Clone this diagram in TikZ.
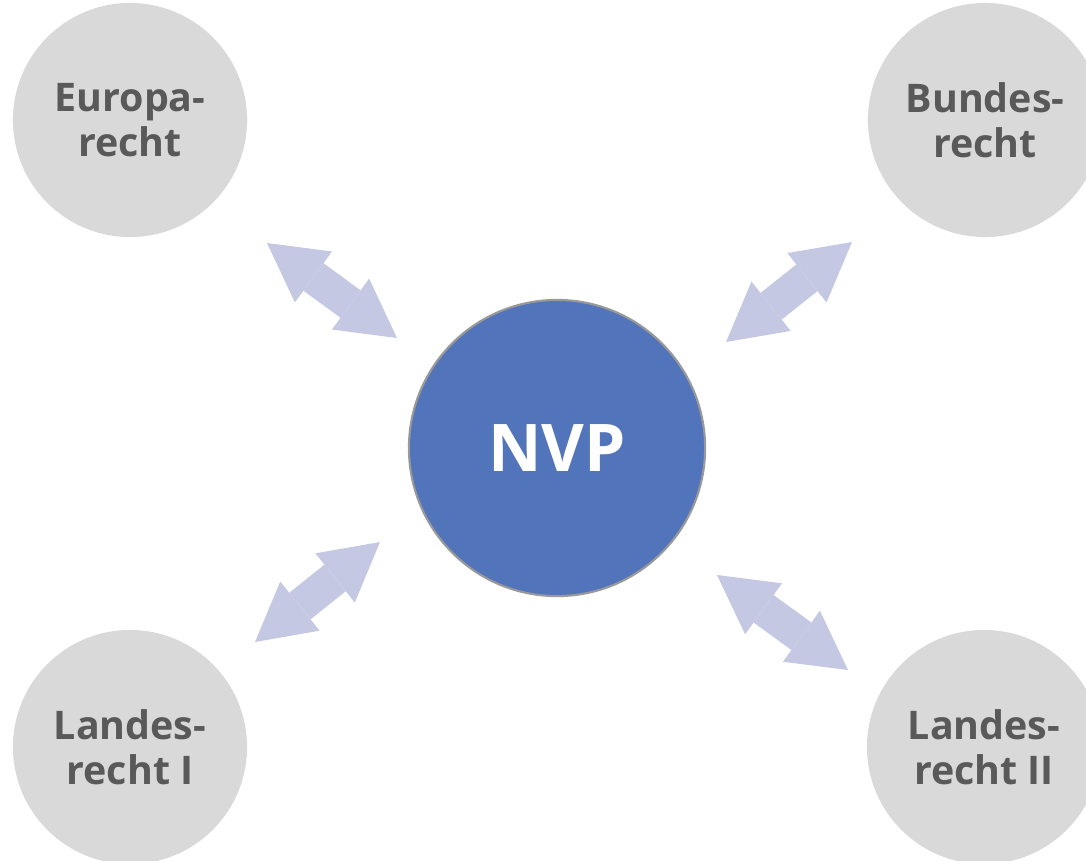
\documentclass[tikz,border=0pt]{standalone}
\usepackage{fontspec}
\setmainfont{Open Sans}
\usetikzlibrary{arrows.meta}
\definecolor{kreisgrau}{RGB}{217,217,217}
\definecolor{textgrau}{RGB}{89,89,89}
\definecolor{nvpblau}{RGB}{82,116,186}
\definecolor{pfeillila}{RGB}{197,200,227}
\begin{document}
\begin{tikzpicture}[x=0.01cm, y=-0.01cm,
        recht/.style={circle, fill=kreisgrau, minimum size=2.34cm, inner sep=0pt,
            align=center, text=textgrau, font=\fontsize{11.2}{12.8}\selectfont\bfseries},
        kern/.style={circle, fill=nvpblau, draw=gray!80, line width=0.6pt,
            minimum size=2.96cm, inner sep=0pt, text=white,
            font=\fontsize{18.7}{22}\selectfont\bfseries},
        pfeil/.style={pfeillila, line width=0.34cm,
            {Triangle[length=0.575cm, width=0.63cm, line width=0pt]}-{Triangle[length=0.575cm, width=0.63cm, line width=0pt]}}]
            \useasboundingbox (0,0) rectangle (1086,860);
            \node [kern] (nvp) at (557,448) {NVP};
            \node [recht] (europa) at (130,120) {Europa-\\recht};
            \node [recht] (bund) at (985,120) {Bundes-\\recht};
            \node [recht] (land1) at (130,747) {Landes-\\recht I};
            \node [recht] (land2) at (984,747) {Landes-\\recht II};
            \coordinate (eu1) at (267,243);
            \coordinate (eu2) at (397,338);
            \coordinate (bu1) at (852,242);
            \coordinate (bu2) at (726,342);
            \coordinate (la1) at (380,542);
            \coordinate (la2) at (255,642);
            \coordinate (lb1) at (717,575);
            \coordinate (lb2) at (848,670);
            \draw [pfeil] (eu1) -- (eu2);
            \draw [pfeil] (bu1) -- (bu2);
            \draw [pfeil] (la1) -- (la2);
            \draw [pfeil] (lb1) -- (lb2);
        \end{tikzpicture}
\end{document}
